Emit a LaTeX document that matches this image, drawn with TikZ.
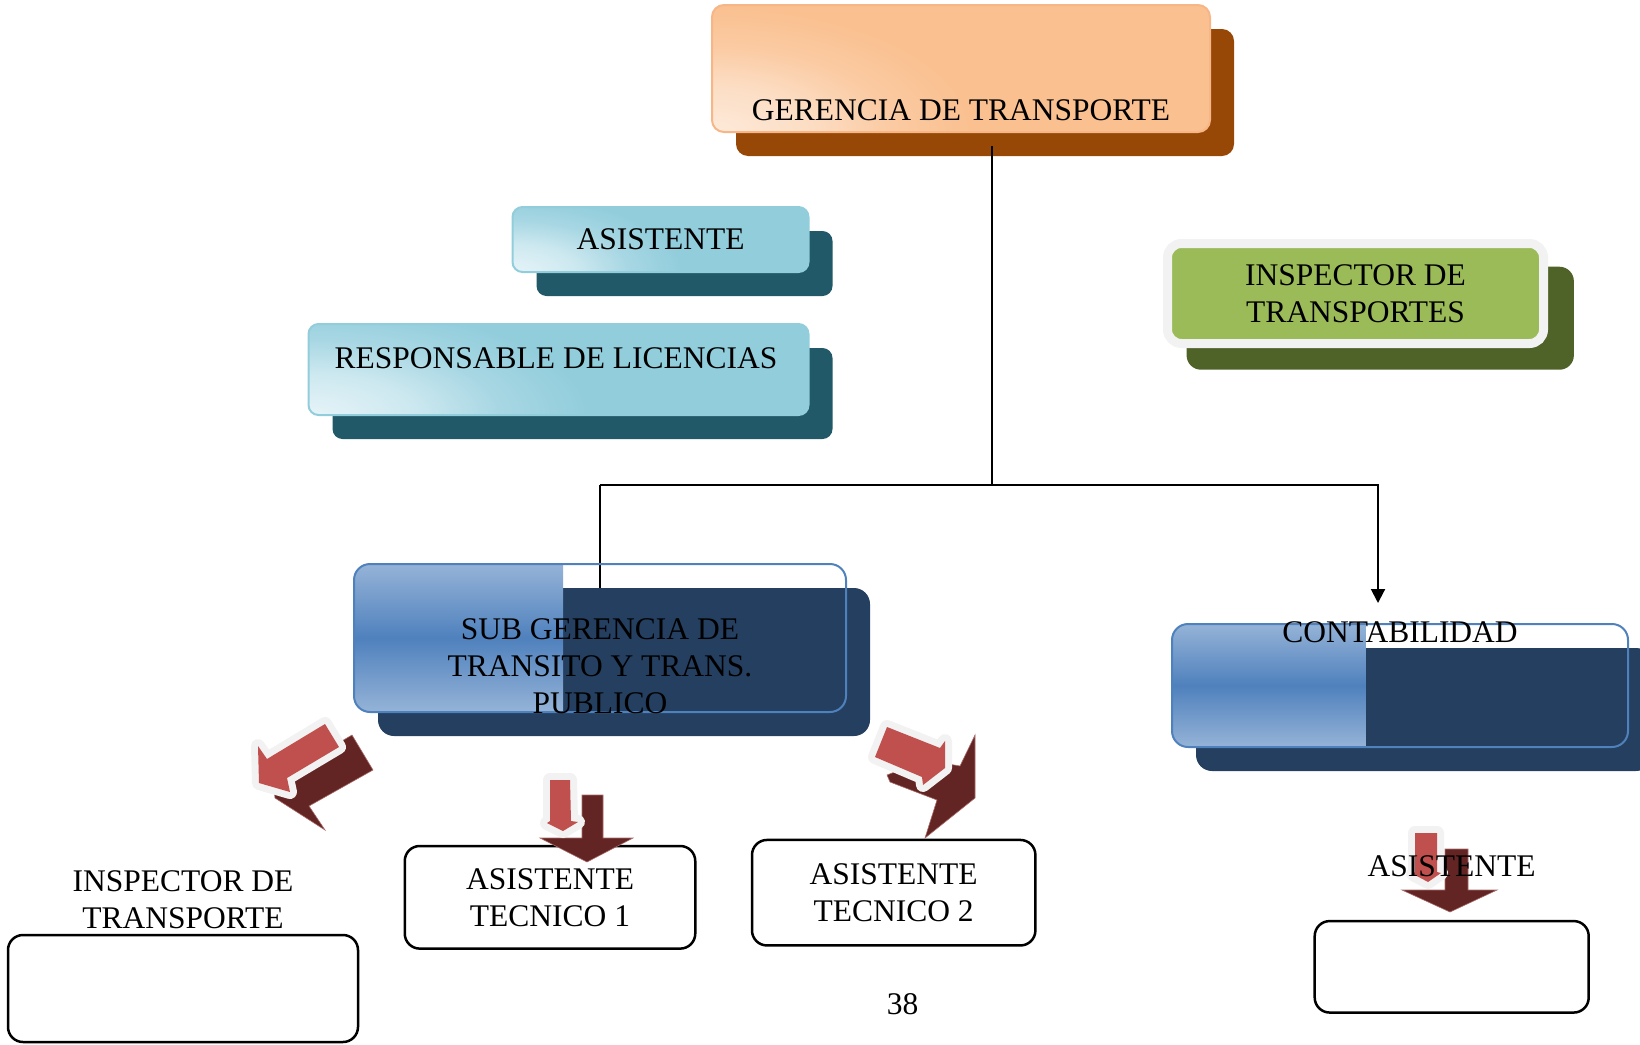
\documentclass[tikz,border=0pt]{standalone}
\usepackage{fontspec}
\setmainfont{Liberation Serif}
\usetikzlibrary{positioning,shadows,calc,arrows.meta,backgrounds}

\definecolor{gerPeach}{HTML}{FAC090}
\definecolor{gerLight}{HTML}{FDEADA}
\definecolor{gerLine}{HTML}{F7B687}
\definecolor{gerShadow}{HTML}{974806}
\definecolor{asiCyan}{HTML}{92CDDC}
\definecolor{asiLight}{HTML}{E6F4F8}
\definecolor{asiShadow}{HTML}{215968}
\definecolor{insGreen}{HTML}{9BBB59}
\definecolor{insShadow}{HTML}{4F6228}
\definecolor{softGrey}{HTML}{F2F2F2}
\definecolor{subLight}{HTML}{95B3D7}
\definecolor{subMid}{HTML}{4F81BD}
\definecolor{subShadow}{HTML}{243F60}
\definecolor{arrRed}{HTML}{C0504D}
\definecolor{arrDark}{HTML}{632523}
\definecolor{arrLine}{HTML}{A86A68}

\pgfdeclareradialshading{peachglow}{\pgfpointorigin}{color(0bp)=(gerLight); color(3bp)=(gerLight!70!gerPeach);
  color(5.5bp)=(gerLight!25!gerPeach); color(8bp)=(gerPeach); color(50bp)=(gerPeach)}
\pgfdeclareradialshading{cyanglow}{\pgfpointorigin}{color(0bp)=(asiLight); color(3bp)=(asiLight!70!asiCyan);
  color(5.5bp)=(asiLight!25!asiCyan); color(8bp)=(asiCyan); color(50bp)=(asiCyan)}

\begin{document}
\begin{tikzpicture}[x=1pt,y=-1pt,
  txt/.style={font=\fontsize{31.5}{37}\selectfont, align=center, inner sep=0pt},
  plate/.style 2 args={minimum width=#1, minimum height=#2, inner sep=0pt, outer sep=0pt},
  shadowed/.style={general shadow={fill=#1, shadow xshift=24pt, shadow yshift=-24pt}},
  glow/.style n args={3}{path picture={\shade[shading=#1]
      (path picture bounding box.south west) ellipse [x radius=#2, y radius=#3];}},
  peachbox/.style={rounded corners=12pt, draw=gerLine, line width=2pt,
    glow={peachglow}{810pt}{390pt}, shadowed=gerShadow},
  cyanbox/.style 2 args={rounded corners=10pt, draw=asiCyan, line width=2pt,
    glow={cyanglow}{#1}{#2}, shadowed=asiShadow},
  greenbox/.style={rounded corners=14pt, draw=softGrey, line width=9pt, fill=insGreen,
    general shadow={fill=insShadow, shadow xshift=24pt, shadow yshift=-24pt, shadow scale=1.03}},
  bluebox/.style={rounded corners=16pt, draw=subMid, line width=2pt, shadowed=subShadow,
    path picture={\shade[sharp corners, top color=subLight, bottom color=subLight, middle color=subMid]
      (path picture bounding box.north west) rectangle
      ($(path picture bounding box.south west)!0.425!(path picture bounding box.south east)$);}},
  whitebox/.style={rounded corners=15pt, draw=black, line width=2.5pt},
  conn/.style={line width=2pt},
  darkarrow/.style={fill=arrDark, postaction={draw=arrLine, line width=0.6pt, shorten >=2pt}},
  redarrow/.style={fill=arrRed, preaction={draw=softGrey, line width=14pt, line join=round}}
]
\useasboundingbox (0,0) rectangle (1640,1044);

% gerencia
\node[peachbox, plate={498pt}{127pt}] (gerencia) at (961,68.5) {};
\node[txt] (gerenciaTxt) at ($(gerencia)+(0,41.5)$) {GERENCIA DE TRANSPORTE};

% asistente y licencias
\node[cyanbox={530pt}{235pt}, plate={296pt}{65pt}, txt] (asistente) at (660.5,239.5) {ASISTENTE};
\node[cyanbox={875pt}{345pt}, plate={500pt}{91pt}] (licencias) at (558.5,369.5) {};
\node[txt] (licenciasTxt) at ($(licencias)+(-2.5,-11.5)$) {RESPONSABLE DE LICENCIAS};

% inspector
\node[greenbox, plate={376pt}{100pt}, txt] (inspector) at (1355.5,293.5) {INSPECTOR DE\\TRANSPORTES};

% sub gerencia y contabilidad
\node[bluebox, plate={492pt}{148pt}] (sub) at (600,638) {};
\node[txt] (subTxt) at ($(sub)+(0,28.5)$) {SUB GERENCIA DE\\TRANSITO Y TRANS.\\PUBLICO};
\node[bluebox, plate={456pt}{123pt}] (conta) at (1400,685.5) {};
\node[txt] (contaTxt) at ($(conta)+(0,-53.5)$) {CONTABILIDAD};

% lineas
\coordinate (bus) at ($(gerencia.south)+(31,353)$);
\coordinate (contaIn) at ($(conta.north)+(-22,0)$);
\draw[conn] ($(gerencia.south)+(31,14)$) -- (bus);
\draw[conn, -{Triangle[width=14pt,length=14pt]}, shorten >=21pt]
  (sub.center |- bus) -- (contaIn |- bus) -- (contaIn);
\begin{scope}[on background layer]
\draw[conn] (sub.center |- bus) -- (sub.center);
\end{scope}

% cajas de abajo
\node[whitebox, plate={350pt}{107pt}] (inspBox) at (183,988.5) {};
\node[txt, above=6pt of inspBox] (inspTxt) {INSPECTOR DE\\TRANSPORTE};
\node[whitebox, plate={290.5pt}{102.6pt}, txt] (tec1) at (550,897.3) {ASISTENTE\\TECNICO 1};
\node[whitebox, plate={283.4pt}{105.5pt}, txt] (tec2) at (893.7,892.7) {ASISTENTE\\TECNICO 2};
\node[whitebox, plate={274pt}{91.5pt}] (asiBox) at (1451.7,966.8) {};

% flechas
\path[darkarrow] (352,735) -- (373,770) -- (309,806) -- (325,830) -- (275,798) -- (272,772) -- (300,766) -- cycle;
\path[redarrow] (325,724) -- (339,747) -- (287,778) -- (290,792) -- (259,783) -- (258,746) -- (267,759) -- cycle;

\path[darkarrow] (582,795) -- (603,795) -- (603,838) -- (633,838) -- (587,862) -- (540,838) -- (582,838) -- cycle;
\path[redarrow] (550,780) -- (570,780) -- (571,821) -- (578,822) -- (563,831) -- (547,823) -- (550,821) -- cycle;

\path[darkarrow] (887,775) -- (890,782) -- (937,800) -- (925,838) -- (975,798) -- (975,735) -- (960,766) -- (925,760) -- cycle;
\path[redarrow] (887,727) -- (940,748) -- (945,741) -- (945,768) -- (923,785) -- (922,777) -- (875,757) -- cycle;

\path[darkarrow] (1445,849) -- (1468,849) -- (1468,890) -- (1497,890) -- (1450,912) -- (1402,890) -- (1445,890) -- cycle;
\path[redarrow] (1415,833) -- (1437,833) -- (1437,872) -- (1441,873) -- (1428,882) -- (1413,874) -- (1415,872) -- cycle;

\node[txt, above=44pt of asiBox] (asiTxt) {ASISTENTE};

% pagina
\node[txt] (pageNum) at (902.6,1004) {38};
\end{tikzpicture}
\end{document}
